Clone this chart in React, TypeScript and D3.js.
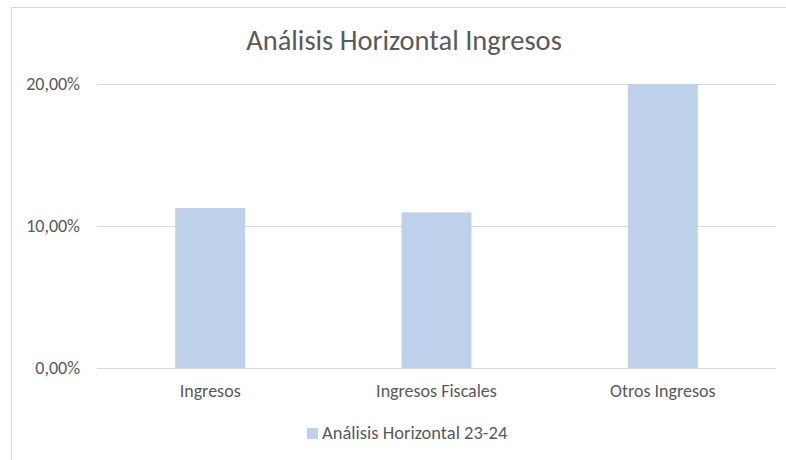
import React from 'react';
import * as d3 from 'd3';

const categories = ['Ingresos', 'Ingresos Fiscales', 'Otros Ingresos'];
const values = [0.1127, 0.1096, 0.2];
const yTicks = [0, 0.1, 0.2];
const seriesName = 'Análisis Horizontal 23-24';
const title = 'Análisis Horizontal Ingresos';

const W = 786;
const H = 460;
const FONT = "Carlito, Calibri, 'Liberation Sans', Arial, sans-serif";
const TEXT = '#595959';
const BAR = '#bdd1ea';

const fmt = (v: number) => (v * 100).toFixed(2).replace('.', ',') + '%';

export default function App() {
  const x = d3.scaleBand<string>()
    .domain(categories)
    .range([97, 776])
    .paddingInner(0.691)
    .paddingOuter(0.3455);
  const y = d3.scaleLinear().domain([0, 0.2]).range([368, 84]);

  return (
    <svg width={W} height={H} style={{ position: 'absolute', left: 0, top: 0 }} fontFamily={FONT}>
      <rect x={0} y={0} width={W} height={H} fill="#fff" />
      {/* chart area border, runs off the right and bottom of the window */}
      <rect x={11.5} y={7.5} width={900} height={600} fill="#fff" stroke="#d9d9d9" strokeWidth={1} />

      <text x={404} y={50} textAnchor="middle" fontSize={28.5} fill={TEXT}>{title}</text>

      {yTicks.map(t => (
        <g key={t}>
          <line x1={97} x2={776} y1={Math.round(y(t)) + 0.5} y2={Math.round(y(t)) + 0.5} stroke="#d9d9d9" strokeWidth={1} />
          <text x={80} y={y(t)} dy="0.35em" textAnchor="end" fontSize={18} fill={TEXT}>{fmt(t)}</text>
        </g>
      ))}

      {categories.map((c, i) => {
        const v = Math.min(values[i], 0.2);
        return (
          <rect key={c} x={x(c)} y={y(v)} width={x.bandwidth()} height={y(0) - y(v)} fill={BAR} />
        );
      })}

      {categories.map(c => (
        <text key={c} x={(x(c) ?? 0) + x.bandwidth() / 2} y={391} dy="0.35em" textAnchor="middle" fontSize={18} fill={TEXT}>{c}</text>
      ))}

      <rect x={307} y={428} width={11} height={11} fill={BAR} />
      <text x={322} y={433} dy="0.35em" fontSize={18.5} fill={TEXT}>{seriesName}</text>
    </svg>
  );
}
